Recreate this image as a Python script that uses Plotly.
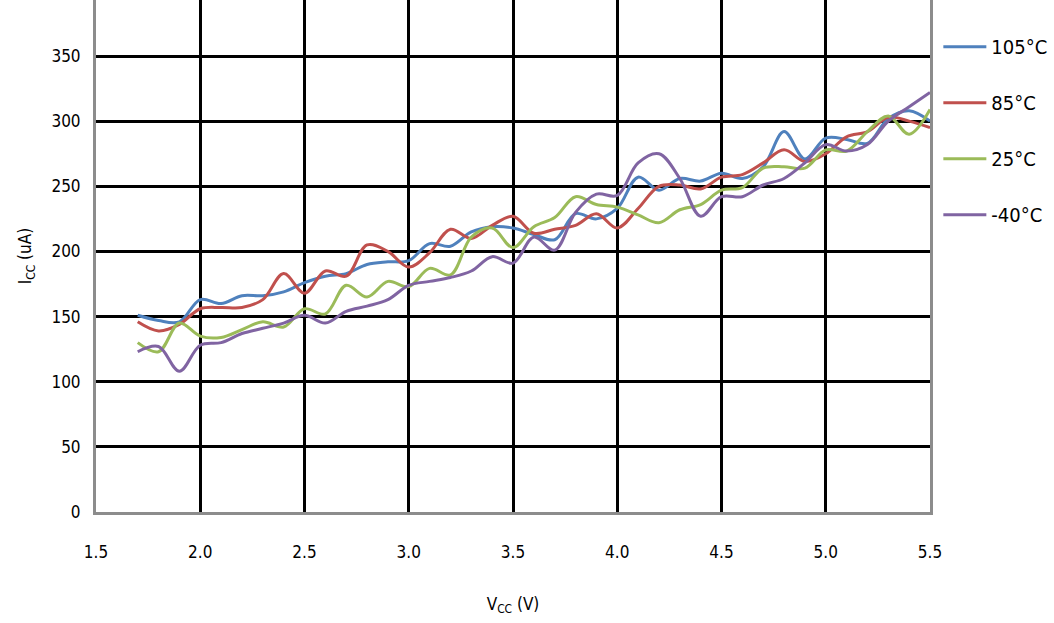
import plotly.graph_objects as go

vcc = [1.7, 1.8, 1.9, 2.0, 2.1, 2.2, 2.3, 2.4, 2.5, 2.6, 2.7, 2.8, 2.9, 3.0,
       3.1, 3.2, 3.3, 3.4, 3.5, 3.6, 3.7, 3.8, 3.9, 4.0, 4.1, 4.2, 4.3, 4.4,
       4.5, 4.6, 4.7, 4.8, 4.9, 5.0, 5.1, 5.2, 5.3, 5.4, 5.5]

icc_105 = [151, 147, 146, 163, 160, 166, 166, 169, 176, 181, 183, 190, 192, 193,
           206, 204, 215, 219, 218, 213, 209, 229, 225, 233, 257, 247, 256, 254,
           260, 256, 265, 292, 271, 287, 286, 283, 302, 308, 300]
icc_85 = [146, 139, 144, 156, 157, 157, 163, 183, 168, 185, 181, 205, 200, 188,
          199, 217, 210, 220, 227, 214, 217, 220, 229, 218, 233, 250, 251, 248,
          257, 259, 268, 278, 269, 275, 288, 292, 303, 300, 295]
icc_25 = [130, 123, 145, 135, 134, 140, 146, 142, 156, 152, 174, 165, 177, 173,
          187, 182, 211, 218, 203, 219, 226, 242, 236, 234, 228, 222, 232, 236,
          247, 249, 264, 265, 264, 278, 277, 292, 304, 290, 309]
icc_m40 = [123, 127, 108, 128, 130, 137, 141, 145, 151, 145, 154, 158, 163, 174,
           177, 180, 185, 196, 191, 211, 201, 230, 244, 243, 268, 275, 256, 227,
           242, 242, 251, 256, 268, 282, 277, 282, 300, 311, 322]

series = [
    ("105°C", icc_105, "#4F81BD"),
    ("85°C", icc_85, "#C0504D"),
    ("25°C", icc_25, "#9BBB59"),
    ("-40°C", icc_m40, "#8064A2"),
]

font_family = "DejaVu Sans Condensed, Liberation Sans Narrow, Arial Narrow, sans-serif"

fig = go.Figure()
for name, vals, color in series:
    fig.add_trace(go.Scatter(
        x=vcc, y=vals, name=name, mode="lines", legendgroup=name,
        line=dict(color=color, width=3, shape="spline", smoothing=1),
    ))

fig.update_layout(
    width=1054, height=623,
    margin=dict(l=96, r=124, t=0, b=111, autoexpand=False),
    plot_bgcolor="white", paper_bgcolor="white",
    font=dict(family=font_family, size=17, color="black"),
    showlegend=True,
    legend=dict(
        x=1.01, y=0.947, xanchor="left", yanchor="top",
        font=dict(size=20), tracegroupgap=27, itemwidth=43,
        bgcolor="rgba(0,0,0,0)",
    ),
)

fig.update_xaxes(
    range=[1.5, 5.5], dtick=0.5, tickformat=".1f",
    showgrid=True, gridcolor="black", gridwidth=3,
    showline=True, linecolor="#8c8c8c", linewidth=3, mirror=False,
    zeroline=False, ticks="", ticklabelstandoff=23, automargin=False,
    tickfont=dict(size=17),
    title=dict(text="V<sub>CC</sub> (V)", font=dict(size=17), standoff=37),
)
fig.update_yaxes(
    range=[0, 393], dtick=50,
    showgrid=True, gridcolor="black", gridwidth=3,
    showline=True, linecolor="#8c8c8c", linewidth=3, mirror=True,
    zeroline=False, ticks="", ticklabelstandoff=9, automargin=False,
    tickfont=dict(size=17),
    title=dict(text="I<sub>CC</sub> (uA)", font=dict(size=17), standoff=16),
)

# the page body has a default 8px margin; drop it so the figure sits at the corner
fig.write_html(
    "out.html",
    config={"displayModeBar": False},
    post_script="document.body.style.margin='0';",
)
